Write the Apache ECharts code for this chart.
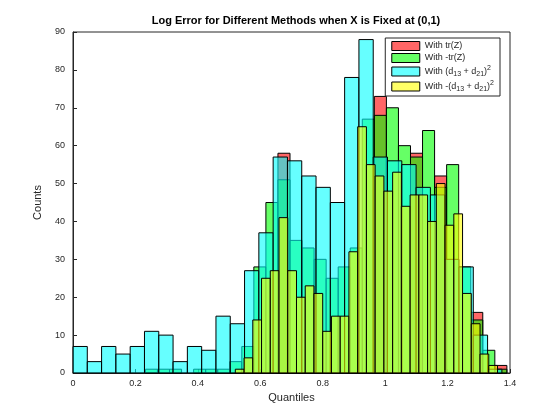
<!DOCTYPE html>
<html><head><meta charset="utf-8">
<script src="https://cdn.jsdelivr.net/npm/echarts@6/dist/echarts.min.js"></script>
<style>body{margin:0;background:#fff}#c{width:560px;height:420px}</style>
</head><body><div id="c"></div>
<script>
// bin setups: start, width, counts
var redStart = 0.232, redWidth = 0.0386;
var redCounts = [0,0,0,0,0,0,0,0,0,0,0,58,0,0,0,0,0,0,0,73,0,0,58,0,52,0,0,16,0,2];
var greenStart = 0.232, greenWidth = 0.0386;
var greenCounts = [1,1,1,0,1,1,1,3,7,28,45,51,35,33,30,25,28,33,67,68,70,60,57,64,49,55,28,14,6,1];
var cyanStart = 0, cyanWidth = 0.0458;
var cyanCounts = [7,3,7,5,7,11,10,3,7,6,15,13,27,37,57,56,52,49,45,78,88,57,56,55,49,47,30,28,10,1];
var yellowStart = 0.52, yellowWidth = 0.028;
var yellowCounts = [1,4,14,25,27,41,27,20,23,21,11,15,15,32,65,55,52,48,53,44,47,47,40,50,39,42,21,13,5,2];
var names = ['With tr(Z)','With -tr(Z)','With (d{sub|13} + d{sub|21}){sup|2}','With -(d{sub|13} + d{sub|21}){sup|2}'];
var seriesNames = ['red','green','cyan','yellow'];

var Chart = echarts.init(document.getElementById('c'));

function binData(start, width, counts){
    var out = [];
    for (var i = 0; i < counts.length; i++){
        if (counts[i] > 0) out.push([start + i*width, start + (i+1)*width, counts[i]]);
    }
    return out;
}
function renderBar(params, api){
    var p0 = api.coord([api.value(0), api.value(2)]);
    var p1 = api.coord([api.value(1), 0]);
    return {
        type: 'rect',
        shape: {x: p0[0], y: p0[1], width: p1[0]-p0[0], height: p1[1]-p0[1]},
        style: api.style({stroke: '#000', lineWidth: 1})
    };
}
var colors = ['rgba(255,0,0,0.6)','rgba(0,255,0,0.6)','rgba(0,255,255,0.6)','rgba(255,255,0,0.6)'];
var sets = [
    binData(redStart, redWidth, redCounts),
    binData(greenStart, greenWidth, greenCounts),
    binData(cyanStart, cyanWidth, cyanCounts),
    binData(yellowStart, yellowWidth, yellowCounts)
];
var series = [];
for (var k = 0; k < 4; k++){
    series.push({
        name: seriesNames[k],
        type: 'custom',
        renderItem: renderBar,
        encode: {x: [0,1], y: 2},
        itemStyle: {color: colors[k], borderColor: '#000', borderWidth: 1},
        data: sets[k]
    });
}

var option = {
    animation: false,
    textStyle: {fontFamily: 'Liberation Sans, Arial', color: '#262626'},
    title: {
        text: 'Log Error for Different Methods when X is Fixed at (0,1)',
        left: 291, top: 10, textAlign: 'center',
        textStyle: {fontSize: 11, fontWeight: 'bold', color: '#000'}
    },
    legend: {
        orient: 'vertical', right: 60, top: 38,
        backgroundColor: '#fff', borderColor: '#262626', borderWidth: 1,
        padding: [3, 6], itemGap: 2, itemWidth: 28, itemHeight: 9,
        formatter: function(n){ return names[seriesNames.indexOf(n)]; },
        textStyle: {fontSize: 9, color: '#262626',
            rich: {sub: {fontSize: 7, verticalAlign: 'bottom', padding: [6,0,0,0]},
                   sup: {fontSize: 7, verticalAlign: 'top', padding: [0,0,6,0]}}},
        data: seriesNames.map(function(n, i){
            return {name: n, icon: 'rect', itemStyle: {color: colors[i], borderColor: '#000', borderWidth: 1}};
        })
    },
    grid: {left: 73, right: 50, top: 32, bottom: 47, show: true, borderColor: '#262626', borderWidth: 1},
    xAxis: {
        type: 'value', min: 0, max: 1.4, interval: 0.2,
        name: 'Quantiles', nameLocation: 'middle', nameGap: 18,
        nameTextStyle: {fontSize: 11, color: '#262626'},
        axisLine: {lineStyle: {color: '#262626'}},
        axisTick: {inside: true, length: 4, lineStyle: {color: '#262626'}},
        axisLabel: {fontSize: 9, color: '#262626', margin: 6, formatter: function(v){ return +v.toFixed(1); }},
        splitLine: {show: false}
    },
    yAxis: {
        type: 'value', min: 0, max: 90, interval: 10,
        name: 'Counts', nameLocation: 'middle', nameGap: 30,
        nameTextStyle: {fontSize: 11, color: '#262626'},
        axisLine: {show: true, lineStyle: {color: '#262626'}},
        axisTick: {show: true, inside: true, length: 4, lineStyle: {color: '#262626'}},
        axisLabel: {fontSize: 9, color: '#262626', margin: 8},
        splitLine: {show: false}
    },
    series: series
};
Chart.setOption(option);
</script></body></html>
